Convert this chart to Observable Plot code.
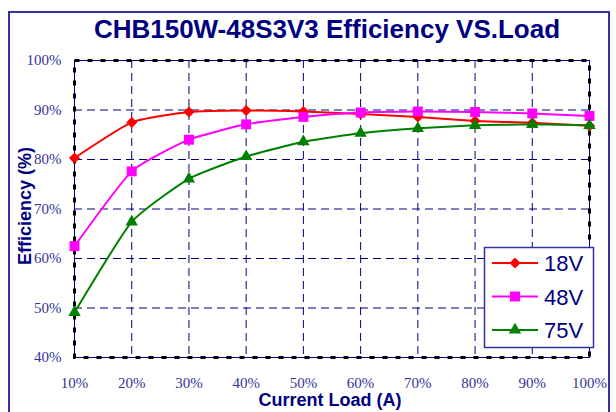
<!DOCTYPE html>
<html>
<head>
<meta charset="utf-8">
<script src="https://cdn.jsdelivr.net/npm/d3@7"></script>
<script src="https://cdn.jsdelivr.net/npm/@observablehq/plot@0.6"></script>
<style>
  html, body { margin: 0; padding: 0; background: #fff; }
  #wrap { position: relative; width: 616px; height: 412px; overflow: hidden; background: #fff; }
  #border { position: absolute; left: 8px; top: 11px; width: 602px; height: 420px; border: 2px solid #3333a0; box-sizing: border-box; }
  #title { position: absolute; left: 0; width: 654px; top: 14px; text-align: center; font: bold 26px "Liberation Sans", Arial, sans-serif; color: #000080; line-height: 30px; }
  #xlabel { position: absolute; left: 0; width: 660px; top: 393px; text-align: center; font: bold 18px "Liberation Sans", Arial, sans-serif; color: #000080; line-height: 14px; }
  #ylabel { position: absolute; left: 25px; top: 206px; transform: translate(-50%, -50%) rotate(-90deg); white-space: nowrap; font: bold 18px "Liberation Sans", Arial, sans-serif; color: #000080; line-height: 20px; }
  #chart { position: absolute; left: 0; top: 0; }
  #legend { position: absolute; left: 0; top: 0; }
</style>
</head>
<body>
<div id="wrap">
  <div id="border"></div>
  <div id="chart"></div>
  <div id="title">CHB150W-48S3V3 Efficiency VS.Load</div>
  <div id="xlabel">Current Load (A)</div>
  <div id="ylabel">Efficiency (%)</div>
  <svg id="legend" width="616" height="412"></svg>
</div>
<script>
const loads = [10, 20, 30, 40, 50, 60, 70, 80, 90, 100];
const eff18 = [80.3, 87.5, 89.6, 89.9, 89.7, 89.2, 88.6, 87.8, 87.4, 86.8];
const eff48 = [62.5, 77.6, 84.0, 87.1, 88.6, 89.5, 89.7, 89.6, 89.3, 88.8];
const eff75 = [49.1, 67.4, 76.1, 80.6, 83.6, 85.3, 86.3, 86.9, 87.1, 86.9];
const seriesNames = ["18V", "48V", "75V"];
const seriesColors = ["#ff0000", "#ff00ff", "#008000"];
const seriesSymbols = ["diamond2", "square", "triangle"];
const seriesR = [5.0, 5.6, 4.6];
const yTicks = [40, 50, 60, 70, 80, 90, 100];

const allValues = [eff18, eff48, eff75];
const data = [];
allValues.forEach((vals, i) => {
  vals.forEach((v, j) => data.push({load: loads[j], eff: v, series: seriesNames[i]}));
});

const marks = [
  Plot.gridX(loads, {stroke: "#000080", strokeOpacity: 1, strokeDasharray: "8,5"}),
  Plot.gridY(yTicks, {stroke: "#000080", strokeOpacity: 1, strokeDasharray: "8,5"}),
  Plot.frame({stroke: "#000080", strokeWidth: 1}),
  Plot.frame({stroke: "#000000", strokeWidth: 3, strokeDasharray: "5,8"}),
  Plot.axisX(loads, {tickSize: 0, tickPadding: 20, tickFormat: d => d + "%", fill: "#333399", fontSize: 15, fontFamily: "Liberation Serif, serif", label: null}),
  Plot.axisY(yTicks, {tickSize: 0, tickPadding: 13, tickFormat: d => d + "%", fill: "#333399", fontSize: 15, fontFamily: "Liberation Serif, serif", label: null})
];
seriesNames.forEach((name, i) => {
  const d = data.filter(r => r.series === name);
  marks.push(Plot.line(d, {x: "load", y: "eff", stroke: seriesColors[i], strokeWidth: 2, curve: "cardinal", tension: 0.5}));
});
seriesNames.forEach((name, i) => {
  const d = data.filter(r => r.series === name);
  marks.push(Plot.dot(d, {x: "load", y: "eff", fill: seriesColors[i], stroke: "none", symbol: seriesSymbols[i], r: seriesR[i]}));
});

const chart = Plot.plot({
  width: 616,
  height: 412,
  marginLeft: 74,
  marginRight: 27,
  marginTop: 60,
  marginBottom: 55,
  x: {domain: [10, 100]},
  y: {domain: [40, 100]},
  style: {background: "transparent", overflow: "visible"},
  marks
});
document.getElementById("chart").appendChild(chart);

// Legend
const leg = d3.select("#legend");
const lx = 484, ly = 247, lw = 109, lh = 100;
leg.append("rect").attr("x", lx + 0.5).attr("y", ly + 0.5).attr("width", lw).attr("height", lh)
  .attr("fill", "#fff").attr("stroke", "#333399").attr("stroke-width", 1.5);
seriesNames.forEach((name, i) => {
  const cy = ly + 16 + i * 33.5;
  leg.append("line").attr("x1", lx + 8).attr("x2", lx + 54).attr("y1", cy).attr("y2", cy)
    .attr("stroke", seriesColors[i]).attr("stroke-width", 2);
  const sym = {diamond2: d3.symbolDiamond2, square: d3.symbolSquare, triangle: d3.symbolTriangle}[seriesSymbols[i]];
  leg.append("path").attr("d", d3.symbol(sym, Math.PI * seriesR[i] * seriesR[i])())
    .attr("transform", `translate(${lx + 31},${cy})`).attr("fill", seriesColors[i]);
  leg.append("text").attr("x", lx + 60).attr("y", cy + 8).text(name)
    .attr("fill", "#000080").attr("font-family", "Liberation Sans, Arial, sans-serif").attr("font-size", 22);
});
</script>
</body>
</html>
